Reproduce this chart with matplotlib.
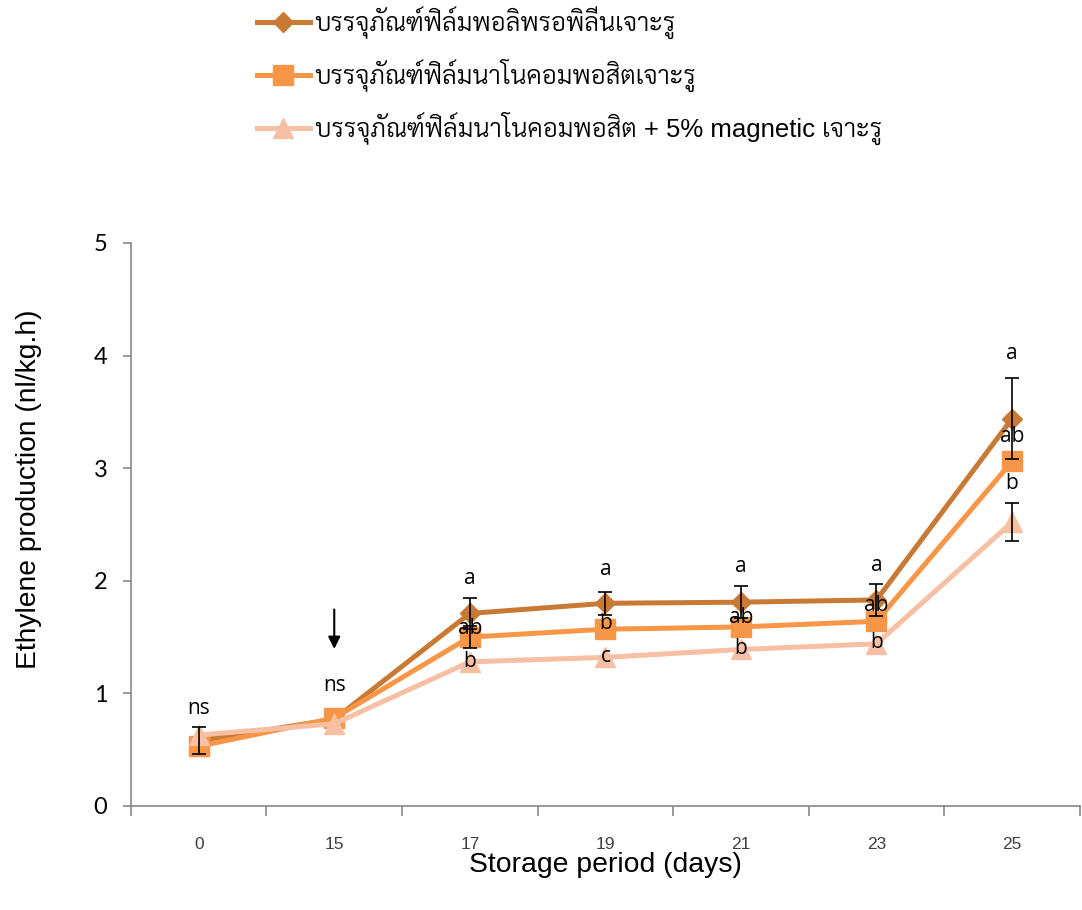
import numpy as np
import matplotlib.pyplot as plt

days = ["0", "15", "17", "19", "21", "23", "25"]

pp_film = [0.58, 0.77, 1.71, 1.80, 1.81, 1.83, 3.44]
pp_err = [0.12, 0.0, 0.14, 0.10, 0.14, 0.14, 0.36]
nano_film = [0.53, 0.78, 1.50, 1.57, 1.59, 1.64, 3.06]
nano_err = [0.0, 0.0, 0.10, 0.0, 0.0, 0.0, 0.0]
mag_film = [0.63, 0.73, 1.28, 1.32, 1.39, 1.44, 2.52]
mag_err = [0.0, 0.0, 0.0, 0.0, 0.0, 0.0, 0.17]

labels = [
    "บรรจุภัณฑ์ฟิล์มพอลิพรอพิลีนเจาะรู",
    "บรรจุภัณฑ์ฟิล์มนาโนคอมพอสิตเจาะรู",
    "บรรจุภัณฑ์ฟิล์มนาโนคอมพอสิต + 5% magnetic เจาะรู",
]

# significance letters
letters_pp = ["ns", "ns", "a", "a", "a", "a", "a"]
letters_nano = ["", "", "ab", "b", "ab", "ab", "ab"]
letters_mag = ["", "", "b", "c", "b", "b", "b"]

colors = ["#C87934", "#F79646", "#F7BFA3"]
markers = ["D", "s", "^"]
msizes = [10.5, 14, 15]

fig = plt.figure(figsize=(10.82, 9.1), dpi=100)
ax = fig.add_axes([0.121, 0.1143, 0.877, 0.6187])

x = np.arange(len(days))
series = [(pp_film, pp_err), (nano_film, nano_err), (mag_film, mag_err)]
handles = []
for (vals, err), c, m, ms, lab in zip(series, colors, markers, msizes, labels):
    h, = ax.plot(x, vals, color=c, lw=3.6, marker=m, ms=ms,
                 mec=c, mfc=c, label=lab, zorder=3)
    handles.append(h)
    e = np.array(err)
    idx = e > 0
    ax.errorbar(x[idx], np.array(vals)[idx], yerr=e[idx], fmt="none",
                ecolor="black", elinewidth=1.2, capsize=5, capthick=1.2, zorder=4)

ax.text(0, 0.87, "ns", ha="center", va="center", fontsize=15, family="Open Sans")
ax.text(1, 1.07, "ns", ha="center", va="center", fontsize=15, family="Open Sans")
pos_pp = [None, None, 2.02, 2.10, 2.13, 2.14, 4.02]
pos_nano = [None, None, 1.58, 1.62, 1.67, 1.78, 3.28]
pos_mag = [None, None, 1.28, 1.33, 1.40, 1.45, 2.86]
for i in range(2, 7):
    ax.text(i, pos_pp[i], letters_pp[i], ha="center", va="center", fontsize=15, family="Open Sans")
    ax.text(i, pos_nano[i], letters_nano[i], ha="center", va="center", fontsize=15, family="Open Sans")
    ax.text(i, pos_mag[i], letters_mag[i], ha="center", va="center", fontsize=15, family="Open Sans")

ax.annotate("", xy=(1, 1.37), xytext=(1, 1.77),
            arrowprops=dict(arrowstyle="-|>", color="black", lw=1.5, mutation_scale=18))

ax.set_xlim(-0.5, 6.5)
ax.set_ylim(0, 5)
ax.set_xticks(x)
ax.set_xticklabels(days, fontsize=12.5, family="Liberation Sans", color="#404040")
ax.set_xticks(np.arange(-0.5, 7, 1), minor=True)
ax.tick_params(axis="x", which="major", length=0, pad=22)
ax.tick_params(axis="x", which="minor", length=7, color="#888888", width=1.2)
ax.set_yticks(range(6))
ax.tick_params(axis="y", labelsize=17, length=6, color="#888888", width=1.2, pad=11)
for t in ax.get_yticklabels():
    t.set_family("Lato")
for s in ["top", "right"]:
    ax.spines[s].set_visible(False)
for s in ["left", "bottom"]:
    ax.spines[s].set_color("#888888")
    ax.spines[s].set_linewidth(1.2)

ax.set_xlabel("Storage period (days)", fontsize=20.4, family="Liberation Sans", labelpad=0)
ax.set_ylabel("Ethylene production (nl/kg.h)", fontsize=20.3, family="Liberation Sans")
ax.yaxis.set_label_coords(-0.094, 0.563)

thai_family = ["Liberation Sans", "Sarabun", "Loma", "DejaVu Sans"]
leg = fig.legend(handles=handles, loc="upper left", bbox_to_anchor=(0.216, 1.019),
                 frameon=False, handlelength=2.05, labelspacing=0.78,
                 handletextpad=0.2,
                 prop={"family": thai_family, "size": 18.5, "weight": 300})

fig.savefig("out.png", dpi=100)
